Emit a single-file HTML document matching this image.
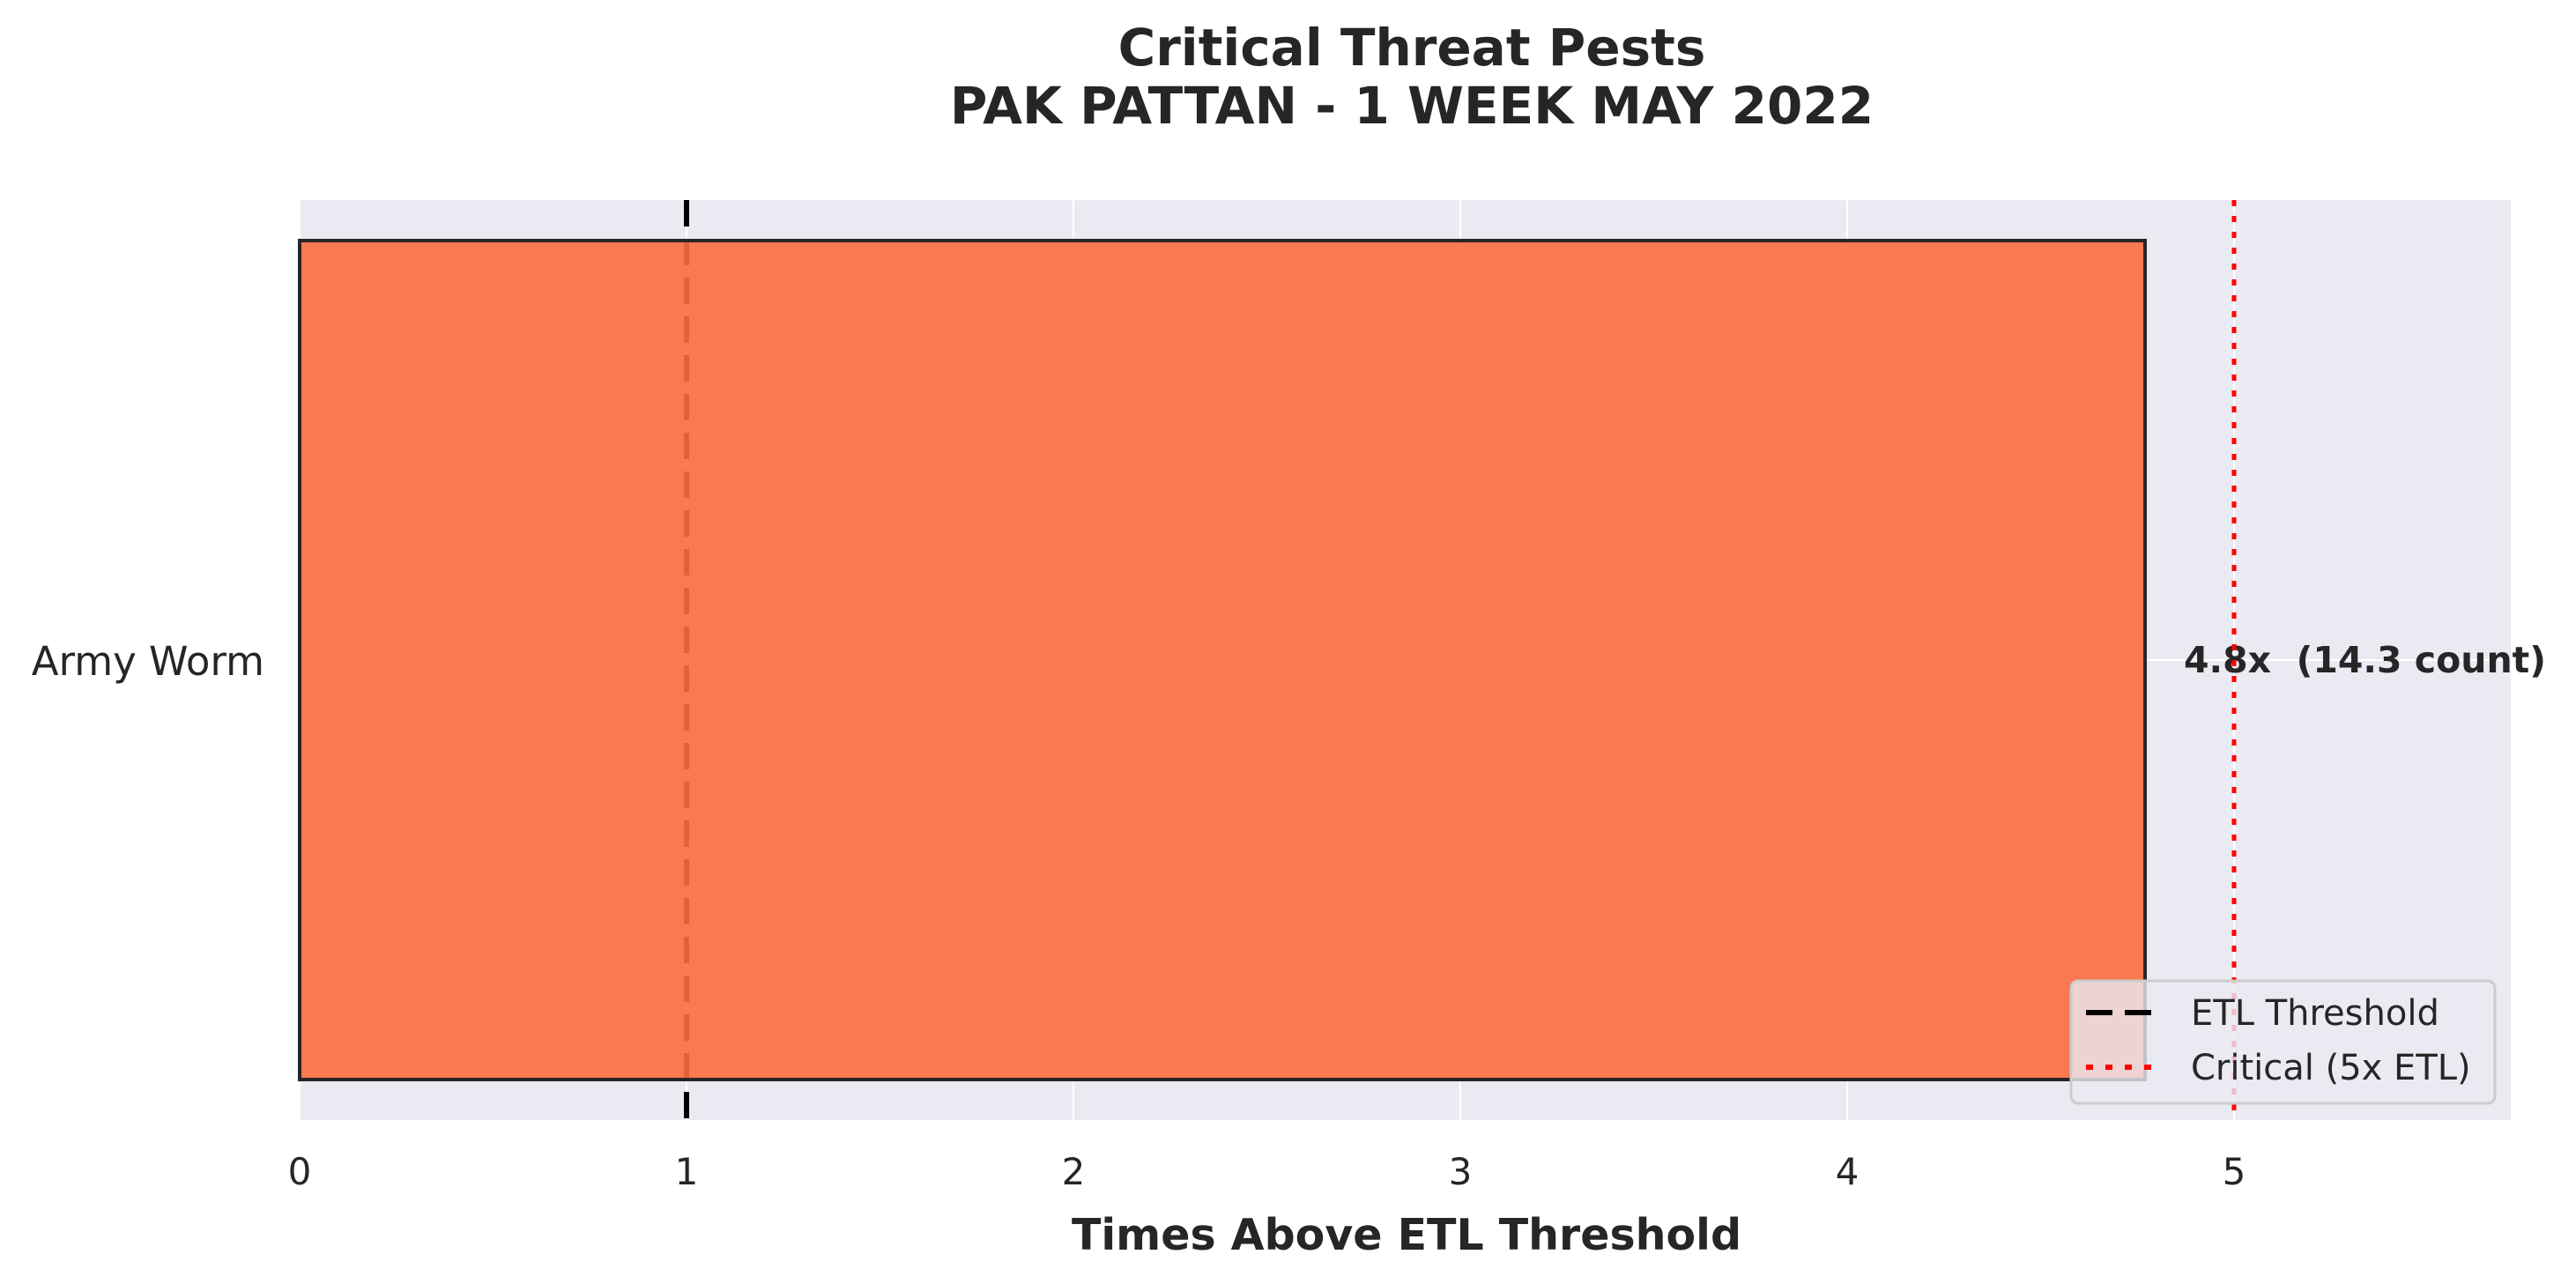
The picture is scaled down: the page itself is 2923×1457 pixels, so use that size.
<!DOCTYPE html>
<html><head><meta charset="utf-8"><style>
body{margin:0;background:#fff}
text{font-family:"DejaVu Sans","Liberation Sans",sans-serif;fill:#262626;white-space:pre}
</style></head><body>
<svg id="chart" width="2923" height="1452" xmlns="http://www.w3.org/2000/svg">
<text x="1602" y="74" font-size="58" font-weight="bold" text-anchor="middle">Critical Threat Pests</text>
<text x="1602" y="140" font-size="58" font-weight="bold" text-anchor="middle">PAK PATTAN - 1 WEEK MAY 2022</text>
<rect x="340" y="227" width="2509" height="1044" fill="#eaeaf2"/>
<g id="grid"></g>
<g id="marks"></g>
<g id="ticks"></g>
<text x="1596" y="1418" font-size="49" font-weight="bold" text-anchor="middle">Times Above ETL Threshold</text>
<g>
<rect x="2350" y="1113" width="481" height="139" rx="8" fill="#eaeaf2" fill-opacity="0.8" stroke="#cccccc" stroke-width="3"/>
<line x1="2367" y1="1149" x2="2442" y2="1149" stroke="#000" stroke-width="6" stroke-dasharray="30,14"/>
<text x="2486" y="1163" font-size="40">ETL Threshold</text>
<line x1="2367" y1="1211" x2="2442" y2="1211" stroke="#ff0000" stroke-width="6" stroke-dasharray="8,14"/>
<text x="2486" y="1225" font-size="40">Critical (5x ETL)</text>
</g>
</svg>
<script>
const categories = ["Army Worm"];
const ratios = [4.77];
const counts = [14.3];
const xTicks = [0,1,2,3,4,5];
const etl = 1;
const critical = 5;

const X0=340, UNIT=439, TOP=227, BOT=1271;
const NS="http://www.w3.org/2000/svg";
function xs(v){return X0+v*UNIT;}
function band(i){const h=(BOT-TOP)/categories.length;return {y:TOP+i*h+46,h:h-92,c:TOP+i*h+h/2};}
function mk(tag,attrs,parent){const e=document.createElementNS(NS,tag);for(const k in attrs)e.setAttribute(k,attrs[k]);document.getElementById(parent).appendChild(e);return e;}

xTicks.forEach(t=>{
  const g=mk('line',{x1:xs(t),x2:xs(t),y1:TOP,y2:BOT,stroke:'#fff','stroke-width':2},'grid');
  
  
  const l=mk('text',{x:xs(t),y:BOT+73,'font-size':42,'text-anchor':'middle'},'ticks');
  l.textContent=t;
  
  
});
categories.forEach((c,i)=>{
  const b=band(i);
  const gl=mk('line',{x1:X0,x2:X0+2509,y1:b.c,y2:b.c,stroke:'#fff','stroke-width':2},'grid');
  
  
  const l=mk('text',{x:300,y:b.c+17,'font-size':45,'text-anchor':'end'},'ticks');
  l.textContent=c;
  
  
});
const etlLine=mk('line',{x1:xs(etl),x2:xs(etl),y1:TOP,y2:BOT,stroke:'#000','stroke-width':6,'stroke-dasharray':'30,14'},'marks');


categories.forEach((c,i)=>{
  const b=band(i);
  const r=mk('rect',{x:xs(0),y:b.y,width:xs(ratios[i])-xs(0),height:b.h,fill:'#fb6d3e','fill-opacity':0.9,stroke:'#262626','stroke-width':4},'marks');
  
  
  const t=mk('text',{x:xs(ratios[i])+44,y:b.c+14,'font-size':41,'font-weight':'bold'},'marks');
  t.textContent=ratios[i].toFixed(1)+'x  ('+counts[i].toFixed(1)+' count)';
  
  
});
const crit=mk('line',{x1:xs(critical),x2:xs(critical),y1:TOP,y2:BOT,stroke:'#ff0000','stroke-width':5,'stroke-dasharray':'7,11'},'marks');


</script>
</body></html>
